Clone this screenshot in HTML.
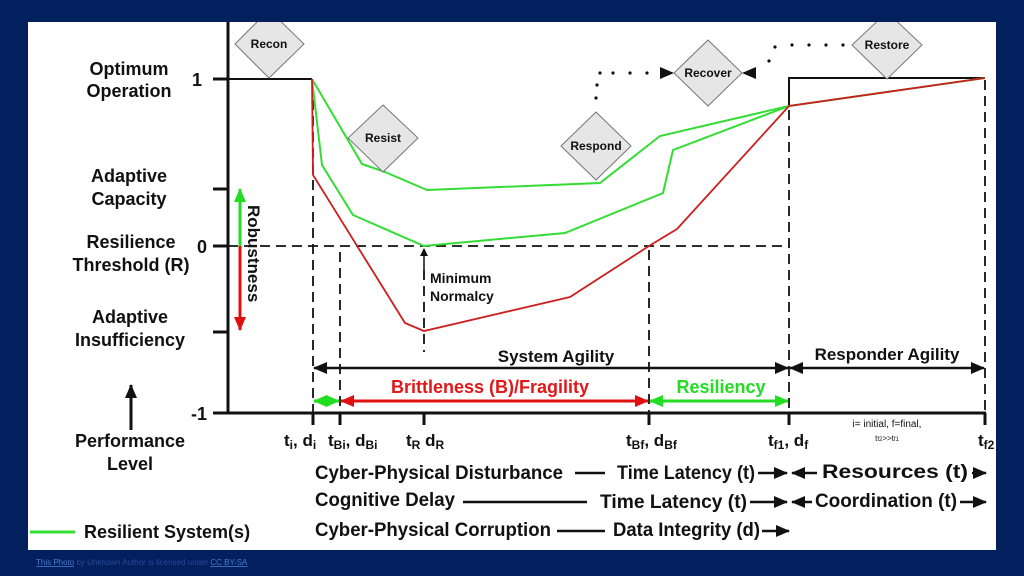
<!DOCTYPE html>
<html><head><meta charset="utf-8"><style>
html,body{margin:0;padding:0;background:#021f5e;}
svg{display:block;}
text{font-family:"Liberation Sans",sans-serif;font-weight:bold;fill:#111;}
</style></head><body>
<svg width="1024" height="576" viewBox="0 0 1024 576" xmlns="http://www.w3.org/2000/svg">
<defs>
<clipPath id="wc"><rect x="28" y="22" width="968" height="528"/></clipPath>
<marker id="ak" markerWidth="8" markerHeight="8" refX="7" refY="4" orient="auto-start-reverse" markerUnits="userSpaceOnUse"><path d="M0,0 L8,4 L0,8 z" fill="#111"/></marker>
<marker id="ak2" markerWidth="14" markerHeight="12" refX="13" refY="6" orient="auto-start-reverse" markerUnits="userSpaceOnUse"><path d="M0,0 L14,6 L0,12 z" fill="#111"/></marker>
<marker id="ar" markerWidth="14" markerHeight="12" refX="13" refY="6" orient="auto-start-reverse" markerUnits="userSpaceOnUse"><path d="M0,0 L14,6 L0,12 z" fill="#e01010"/></marker>
<marker id="ag" markerWidth="14" markerHeight="12" refX="13" refY="6" orient="auto-start-reverse" markerUnits="userSpaceOnUse"><path d="M0,0 L14,6 L0,12 z" fill="#22dd22"/></marker>
</defs>
<rect x="0" y="0" width="1024" height="576" fill="#021f5e"/>
<rect x="28" y="22" width="968" height="528" fill="#fff"/>
<g clip-path="url(#wc)">

<!-- axes -->
<line x1="228" y1="22" x2="228" y2="413" stroke="#111" stroke-width="3"/>
<line x1="226" y1="413" x2="986" y2="413" stroke="#111" stroke-width="3"/>
<g stroke="#111" stroke-width="3">
<line x1="213" y1="79" x2="228" y2="79"/><line x1="213" y1="189" x2="228" y2="189"/>
<line x1="213" y1="246" x2="228" y2="246"/><line x1="213" y1="332" x2="228" y2="332"/>
<line x1="213" y1="413" x2="228" y2="413"/>
<line x1="313" y1="413" x2="313" y2="425"/><line x1="340" y1="413" x2="340" y2="425"/>
<line x1="424" y1="413" x2="424" y2="425"/><line x1="649" y1="413" x2="649" y2="425"/>
<line x1="789" y1="413" x2="789" y2="425"/><line x1="985" y1="413" x2="985" y2="425"/>
</g>
<g font-size="18"><text x="202" y="86" text-anchor="end">1</text><text x="207" y="253" text-anchor="end">0</text><text x="207" y="420" text-anchor="end">-1</text></g>

<polyline points="228,79 312,79" fill="none" stroke="#111" stroke-width="2"/>
<polyline points="789,106 789,78 985,78" fill="none" stroke="#111" stroke-width="2"/>

<g stroke="#111" stroke-width="1.8" stroke-dasharray="10,6" fill="none">
<line x1="228" y1="246" x2="789" y2="246"/>
<line x1="313" y1="100" x2="313" y2="412"/>
<line x1="340" y1="252" x2="340" y2="412"/>
<line x1="424" y1="270" x2="424" y2="352"/>
<line x1="649" y1="250" x2="649" y2="412"/>
<line x1="789" y1="110" x2="789" y2="412"/>
<line x1="985" y1="80" x2="985" y2="412"/>
</g>
<line x1="424" y1="270" x2="424" y2="249" stroke="#111" stroke-width="1.5" marker-end="url(#ak)"/>
<text x="430" y="283" font-size="14">Minimum</text>
<text x="430" y="301" font-size="14">Normalcy</text>

<polyline points="312,79 362,164 385,172 427,190 600,183 660,136 789,106 985,78" fill="none" stroke="#33dd33" stroke-width="2"/>
<polyline points="312,79 322,165 353,215 424,246 565,233 663,193 673,150 789,106" fill="none" stroke="#33dd33" stroke-width="2"/>
<polyline points="312,79 313,175 405,323 424,331 570,297 649,246 677,229 789,106 985,78" fill="none" stroke="#cc2020" stroke-width="1.8"/>

<g fill="#e6e6e6" stroke="#777" stroke-width="1">
<polygon points="269,10 304,44 269,78 235,44"/>
<polygon points="383,105 418,138 383,172 348,138"/>
<polygon points="596,112 631,146 596,180 561,146"/>
<polygon points="708,40 742,73 708,106 674,73"/>
<polygon points="887,12 922,45 887,79 852,45"/>
</g>
<g font-size="12" text-anchor="middle" fill="#222">
<text x="269" y="48">Recon</text><text x="383" y="142">Resist</text><text x="596" y="150">Respond</text>
<text x="708" y="77">Recover</text><text x="887" y="49">Restore</text>
</g>
<g fill="#111">
<circle cx="596" cy="98" r="1.6"/><circle cx="597" cy="85" r="1.6"/><circle cx="600" cy="73" r="1.6"/>
<circle cx="613" cy="73" r="1.6"/><circle cx="630" cy="73" r="1.6"/><circle cx="647" cy="73" r="1.6"/>
<circle cx="769" cy="61" r="1.6"/><circle cx="775" cy="47" r="1.6"/><circle cx="792" cy="45" r="1.6"/>
<circle cx="809" cy="45" r="1.6"/><circle cx="826" cy="45" r="1.6"/><circle cx="843" cy="45" r="1.6"/>
<path d="M660,67 L674,73 L660,79 z"/><path d="M756,67 L742,73 L756,79 z"/>
</g>

<line x1="240" y1="246" x2="240" y2="189" stroke="#22dd22" stroke-width="3" marker-end="url(#ag)"/>
<line x1="240" y1="246" x2="240" y2="330" stroke="#e01010" stroke-width="3" marker-end="url(#ar)"/>
<text transform="translate(248,205) rotate(90)" font-size="17">Robustness</text>

<line x1="314" y1="368" x2="788" y2="368" stroke="#111" stroke-width="2.5" marker-start="url(#ak2)" marker-end="url(#ak2)"/>
<line x1="790" y1="368" x2="984" y2="368" stroke="#111" stroke-width="2.5" marker-start="url(#ak2)" marker-end="url(#ak2)"/>
<text x="556" y="362" font-size="17" text-anchor="middle">System Agility</text>
<text x="887" y="360" font-size="17" text-anchor="middle">Responder Agility</text>
<line x1="314" y1="401" x2="339" y2="401" stroke="#22dd22" stroke-width="3" marker-start="url(#ag)" marker-end="url(#ag)"/>
<line x1="341" y1="401" x2="648" y2="401" stroke="#e01010" stroke-width="3" marker-start="url(#ar)" marker-end="url(#ar)"/>
<line x1="650" y1="401" x2="788" y2="401" stroke="#22dd22" stroke-width="3" marker-start="url(#ag)" marker-end="url(#ag)"/>
<text x="490" y="393" font-size="18" text-anchor="middle" style="fill:#e01818">Brittleness (B)/Fragility</text>
<text x="721" y="393" font-size="18" text-anchor="middle" style="fill:#22dd22">Resiliency</text>

<g font-size="18" text-anchor="middle">
<text x="129" y="75">Optimum</text><text x="129" y="97">Operation</text>
<text x="129" y="182">Adaptive</text><text x="129" y="205">Capacity</text>
<text x="131" y="248">Resilience</text><text x="131" y="271">Threshold (R)</text>
<text x="130" y="323">Adaptive</text><text x="130" y="346">Insufficiency</text>
<text x="130" y="447">Performance</text><text x="130" y="470">Level</text>
</g>
<line x1="131" y1="430" x2="131" y2="385" stroke="#111" stroke-width="3" marker-end="url(#ak2)"/>
<line x1="30" y1="532" x2="75" y2="532" stroke="#33dd33" stroke-width="3"/>
<text x="84" y="538" font-size="18">Resilient System(s)</text>

<g font-size="17">
<text x="284" y="446">t<tspan font-size="12" dy="3">i</tspan><tspan dy="-3">, d</tspan><tspan font-size="12" dy="3">i</tspan></text>
<text x="328" y="446">t<tspan font-size="12" dy="3">Bi</tspan><tspan dy="-3">, d</tspan><tspan font-size="12" dy="3">Bi</tspan></text>
<text x="406" y="446">t<tspan font-size="12" dy="3">R</tspan><tspan dy="-3"> d</tspan><tspan font-size="12" dy="3">R</tspan></text>
<text x="626" y="446">t<tspan font-size="12" dy="3">Bf</tspan><tspan dy="-3">, d</tspan><tspan font-size="12" dy="3">Bf</tspan></text>
<text x="768" y="446">t<tspan font-size="12" dy="3">f1</tspan><tspan dy="-3">, d</tspan><tspan font-size="12" dy="3">f</tspan></text>
<text x="978" y="446">t<tspan font-size="12" dy="3">f2</tspan></text>
</g>
<text x="887" y="427" font-size="10" text-anchor="middle" style="font-weight:normal">i= initial, f=final,</text>
<text x="887" y="441" font-size="8" text-anchor="middle" style="font-weight:normal">t<tspan font-size="6">f2</tspan>&gt;&gt;t<tspan font-size="6">f1</tspan></text>

<g font-size="19">
<text x="315" y="479" textLength="248" lengthAdjust="spacingAndGlyphs">Cyber-Physical Disturbance</text>
<text x="617" y="479" textLength="138" lengthAdjust="spacingAndGlyphs">Time Latency (t)</text>
<text x="822" y="478" textLength="146" lengthAdjust="spacingAndGlyphs">Resources (t)</text>
<text x="315" y="506" textLength="140" lengthAdjust="spacingAndGlyphs">Cognitive Delay</text>
<text x="600" y="508" textLength="147" lengthAdjust="spacingAndGlyphs">Time Latency  (t)</text>
<text x="815" y="507" textLength="142" lengthAdjust="spacingAndGlyphs">Coordination (t)</text>
<text x="315" y="536" textLength="236" lengthAdjust="spacingAndGlyphs">Cyber-Physical Corruption</text>
<text x="613" y="536" textLength="147" lengthAdjust="spacingAndGlyphs">Data Integrity (d)</text>
</g>
<g stroke="#111" stroke-width="2.5">
<line x1="575" y1="473" x2="605" y2="473"/>
<line x1="463" y1="502" x2="587" y2="502"/>
<line x1="557" y1="531" x2="605" y2="531"/>
<line x1="758" y1="473" x2="787" y2="473" marker-end="url(#ak2)"/>
<line x1="817" y1="473" x2="792" y2="473" marker-end="url(#ak2)"/>
<line x1="972" y1="473" x2="986" y2="473" marker-end="url(#ak2)"/>
<line x1="750" y1="502" x2="787" y2="502" marker-end="url(#ak2)"/>
<line x1="812" y1="502" x2="792" y2="502" marker-end="url(#ak2)"/>
<line x1="960" y1="502" x2="986" y2="502" marker-end="url(#ak2)"/>
<line x1="762" y1="531" x2="789" y2="531" marker-end="url(#ak2)"/>
</g>
</g>

<text x="36" y="565" font-size="8" style="font-weight:normal;fill:#2a4a9a"><tspan style="fill:#4a7ad0;text-decoration:underline">This Photo</tspan> by Unknown Author is licensed under <tspan style="fill:#4a7ad0;text-decoration:underline">CC BY-SA</tspan></text>
</svg>
</body></html>
